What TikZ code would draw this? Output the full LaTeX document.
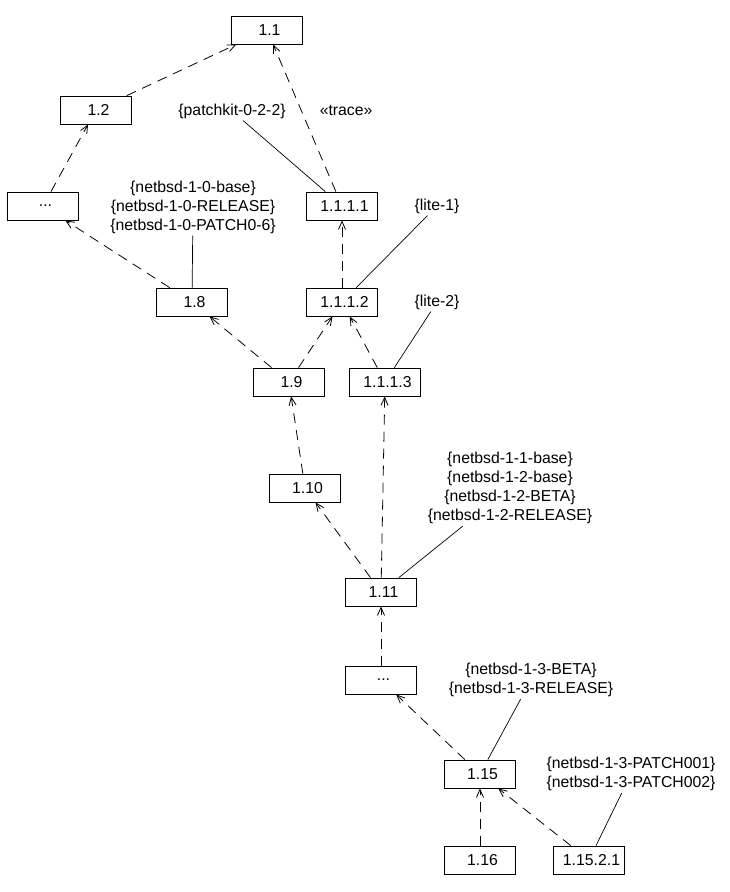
\documentclass[tikz,border=0pt]{standalone}
\usepackage{fontspec}
\setmainfont{Liberation Sans}
\usetikzlibrary{arrows.meta}
\usetikzlibrary{positioning}

\begin{document}
\begin{tikzpicture}[x=1pt, y=-1pt]
\tikzstyle{rev}=[draw, line width=0.8pt, minimum width=71pt, minimum height=28pt,
inner sep=0pt, font=\fontsize{15.8}{19}\selectfont,
execute at begin node=\hspace*{5pt}]
\tikzstyle{tag}=[align=center, inner sep=2pt, font=\fontsize{15.8}{19}\selectfont]
\tikzstyle{dep}=[line width=0.8pt, dash pattern=on 10pt off 7pt,
-{Straight Barb[length=8pt, width=7pt]}]
\tikzstyle{link}=[line width=0.7pt]
	\useasboundingbox (0,0) rectangle (729,892);

	% revisions
	\node [rev] (r11) at (267,30) {1.1};
	\node [rev] (r12) at (96,110) {1.2};
	\node [rev] (rA) at (43,206) {...};
	\node [rev] (r1111) at (342,206) {1.1.1.1};
	\node [rev] (r18) at (192,302) {1.8};
	\node [rev] (r1112) at (342,302) {1.1.1.2};
	\node [rev] (r19) at (289,382) {1.9};
	\node [rev] (r1113) at (385,382) {1.1.1.3};
	\node [rev] (r110) at (305,488) {1.10};
	\node [rev] (r111) at (381,592) {1.11};
	\node [rev] (rB) at (381,680) {...};
	\node [rev] (r115) at (480,774) {1.15};
	\node [rev] (r116) at (480,860) {1.16};
	\node [rev] (r11521) at (589,860) {1.15.2.1};

	% tags
	\node [tag] (tPatch) at (232,111) {\{patchkit-0-2-2\}};
	\node [tag] (tB10) at (193,207) {\{netbsd-1-0-base\}\\
	\{netbsd-1-0-RELEASE\}\\\{netbsd-1-0-PATCH0-6\}};
	\node [tag] (tLite1) at (437,206) {\{lite-1\}};
	\node [tag] (tLite2) at (437,302) {\{lite-2\}};
	\node [tag] (tB12) at (510,488) {\{netbsd-1-1-base\}\\\{netbsd-1-2-base\}\\
	\{netbsd-1-2-BETA\}\\\{netbsd-1-2-RELEASE\}};
	\node [tag] (tB13) at (531,680) {\{netbsd-1-3-BETA\}\\\{netbsd-1-3-RELEASE\}};
	\node [tag] (tP13) at (631,774) {\{netbsd-1-3-PATCH001\}\\
	\{netbsd-1-3-PATCH002\}};

	% ancestry
	\draw [dep] (r12) -- (r11);
	\draw [dep] (rA) -- (r12);
	\draw [dep] (r1111) -- node [tag, pos=0.55, anchor=west, xshift=16pt]
	{«trace»} (r11);
	\draw [dep] (r1112) -- (r1111);
	\draw [dep] (r18) -- (rA);
	\draw [dep] (r19) -- (r18);
	\draw [dep] (r19) -- (r1112);
	\draw [dep] (r1113) -- (r1112);
	\draw [dep] (r110) -- (r19);
	\draw [dep] (r111) -- (r110);
	\draw [dep] (r111) -- (r1113);
	\draw [dep] (rB) -- (r111);
	\draw [dep] (r115) -- (rB);
	\draw [dep] (r116) -- (r115);
	\draw [dep] (r11521) -- (r115);

	% tag links
	\draw [link] (tPatch) -- (r1111);
	\draw [link] (tB10) -- (r18);
	\draw [link] (tLite1) -- (r1112);
	\draw [link] (tLite2) -- (r1113);
	\draw [link] (tB12) -- (r111);
	\draw [link] (tB13) -- (r115);
	\draw [link] (tP13) -- (r11521);
\end{tikzpicture}
\end{document}
